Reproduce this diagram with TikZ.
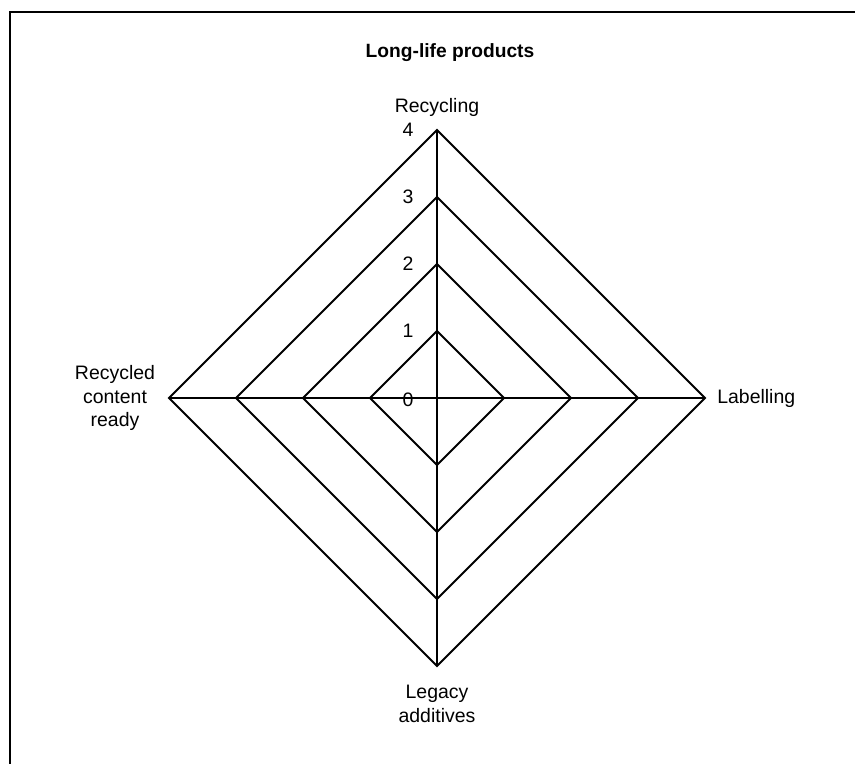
\documentclass[tikz,border=0pt]{standalone}
\usepackage{fontspec}
\setmainfont{Liberation Sans}
\begin{document}
\begin{tikzpicture}[x=0.75pt,y=-0.75pt,
  gridline/.style={line width=1.5pt,black,line join=miter},
  framestyle/.style={line width=1.6pt,black},
  axislabel/.style={font=\fontsize{14.6pt}{17.6pt}\selectfont,align=center,inner sep=0pt},
  ticklabel/.style={font=\fontsize{14.6pt}{17.6pt}\selectfont,inner sep=0pt},
  titlestyle/.style={font=\bfseries\fontsize{14.4pt}{17pt}\selectfont,inner sep=0pt}]
\clip (0,0) rectangle (855,763);
\useasboundingbox (0,0) rectangle (855,763);
% outer frame
\draw[framestyle] (870,12) -- (10,12) -- (10,780);
% title
\node[titlestyle] (title) at (450,53) {Long-life products};
% centre and axis ends (67 px per unit)
\coordinate (c) at (437,398);
\foreach \r in {1,2,3,4}{
  \coordinate (n\r) at (437,398-67*\r);
  \coordinate (e\r) at (437+67*\r,398);
  \coordinate (s\r) at (437,398+67*\r);
  \coordinate (w\r) at (437-67*\r,398);
  \draw[gridline] (n\r) -- (e\r) -- (s\r) -- (w\r) -- cycle;
}
% axes
\draw[gridline] (c) -- (n4);
\draw[gridline] (c) -- (e4);
\draw[gridline] (c) -- (s4);
\draw[gridline] (c) -- (w4);
% scale labels
\node[ticklabel] (t0) at (408,400) {0};
\foreach \r in {1,2,3,4}{
  \node[ticklabel] (t\r) at (408,398-67*\r) {\r};
}
% axis labels
\node[axislabel] (lrec) at (437,107) {Recycling};
\node[axislabel,anchor=west] (llab) at (717,398) {Labelling};
\node[axislabel] (lleg) at (437,704) {Legacy\\additives};
\node[axislabel] (lrc) at (115,398) {Recycled\\content\\ready};
\end{tikzpicture}
\end{document}
